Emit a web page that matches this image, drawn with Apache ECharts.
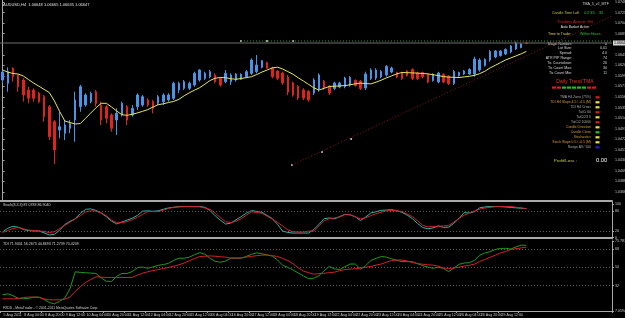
<!DOCTYPE html>
<html lang="en">
<head>
<meta charset="utf-8">
<title>AUDUSD,H4</title>
<script src="https://cdn.jsdelivr.net/npm/echarts@6/dist/echarts.min.js"></script>
<style>
  html, body { margin: 0; padding: 0; background: #000; }
  #chart { width: 625px; height: 318px; }
</style>
</head>
<body>
<div id="chart"></div>
<script>
// ---- data ----
var tradeDays = ['5 Aug', '8 Aug', '9 Aug', '10 Aug', '11 Aug', '12 Aug', '15 Aug', '16 Aug', '17 Aug',
  '18 Aug', '19 Aug', '22 Aug', '23 Aug', '24 Aug', '25 Aug', '26 Aug', '29 Aug', '30 Aug'];
var firstLabel = '5 Aug 2011';

var opens = [1.05907, 1.05841, 1.06141, 1.06007, 1.05907, 1.05707, 1.05707, 1.05641, 1.05573, 1.05373,
  1.05073, 1.04907, 1.04841, 1.04941, 1.05107, 1.05373, 1.05407, 1.05473, 1.05673, 1.05407,
  1.05373, 1.05207, 1.05107, 1.05207, 1.05373, 1.05207, 1.05373, 1.05407, 1.05507, 1.05473,
  1.05441, 1.05473, 1.05507, 1.05541, 1.05707, 1.05741, 1.05741, 1.05807, 1.05907, 1.05941,
  1.05973, 1.06007, 1.05941, 1.05873, 1.05873, 1.05907, 1.05921, 1.05973, 1.06041, 1.06073,
  1.06161, 1.06253, 1.06147, 1.06087, 1.06047, 1.05967, 1.05847, 1.05777, 1.05707, 1.05677,
  1.05647, 1.05727, 1.05887, 1.05787, 1.05737, 1.05767, 1.05777, 1.05807, 1.05897, 1.05887,
  1.05747, 1.05937, 1.05947, 1.05967, 1.06007, 1.06067, 1.06057, 1.06047, 1.06087, 1.06117,
  1.06047, 1.06057, 1.06017, 1.05897, 1.05867, 1.06017, 1.05987, 1.05837, 1.05997, 1.06027,
  1.06027, 1.06027, 1.06107, 1.06197, 1.06307, 1.06367, 1.06397, 1.06427, 1.06467, 1.06527,
  1.06557, 1.06648];
var closes = [1.06067, 1.06073, 1.05973, 1.05773, 1.05607, 1.05541, 1.05541, 1.05473, 1.05173, 1.04773,
  1.04507, 1.04973, 1.05007, 1.05041, 1.05507, 1.05773, 1.05607, 1.05641, 1.05441, 1.05107,
  1.05141, 1.04941, 1.05241, 1.05441, 1.05107, 1.05341, 1.05607, 1.05573, 1.05407, 1.05341,
  1.05573, 1.05607, 1.05607, 1.05841, 1.05841, 1.05873, 1.05841, 1.06041, 1.06107, 1.06041,
  1.06073, 1.05873, 1.05807, 1.06041, 1.06007, 1.06027, 1.06021, 1.06073, 1.06307, 1.06207,
  1.06293, 1.06141, 1.05973, 1.05941, 1.05847, 1.05667, 1.05607, 1.05547, 1.05547, 1.05507,
  1.05907, 1.06007, 1.05747, 1.05647, 1.05847, 1.05847, 1.05947, 1.05957, 1.05797, 1.05737,
  1.06027, 1.06107, 1.06107, 1.06077, 1.06177, 1.06147, 1.05967, 1.05937, 1.05997, 1.05937,
  1.05937, 1.05967, 1.05867, 1.06017, 1.06047, 1.05867, 1.05837, 1.06077, 1.06057, 1.06087,
  1.06117, 1.06327, 1.06307, 1.06317, 1.06477, 1.06487, 1.06487, 1.06517, 1.06587, 1.06647,
  1.06627, 1.06647];
var lows = [1.05841, 1.05673, 1.05873, 1.05673, 1.05473, 1.05441, 1.05473, 1.05441, 1.05073, 1.04707,
  1.04227, 1.04741, 1.04707, 1.04841, 1.04673, 1.05273, 1.05373, 1.05441, 1.05373, 1.05007,
  1.05041, 1.04873, 1.04807, 1.05173, 1.05007, 1.05173, 1.05307, 1.05373, 1.05373, 1.05241,
  1.05407, 1.05407, 1.05473, 1.05507, 1.05641, 1.05707, 1.05707, 1.05773, 1.05873, 1.05907,
  1.05941, 1.05841, 1.05773, 1.05841, 1.05807, 1.05873, 1.05907, 1.05941, 1.06007, 1.06041,
  1.06141, 1.06141, 1.05941, 1.05907, 1.05807, 1.05607, 1.05573, 1.05507, 1.05507, 1.05473,
  1.05607, 1.05673, 1.05707, 1.05607, 1.05707, 1.05741, 1.05741, 1.05773, 1.05773, 1.05707,
  1.05707, 1.05907, 1.05907, 1.05941, 1.05973, 1.06041, 1.05941, 1.05907, 1.05973, 1.05907,
  1.05907, 1.05941, 1.05841, 1.05873, 1.05841, 1.05841, 1.05807, 1.05807, 1.05973, 1.06007,
  1.06007, 1.05973, 1.06073, 1.06173, 1.06273, 1.06341, 1.06373, 1.06407, 1.06441, 1.06507,
  1.06541, 1.06635];
var highs = [1.06107, 1.06161, 1.06161, 1.06007, 1.05941, 1.05773, 1.05741, 1.05673, 1.05607, 1.05407,
  1.05107, 1.05273, 1.05107, 1.05107, 1.05673, 1.05807, 1.05641, 1.05673, 1.05707, 1.05473,
  1.05407, 1.05241, 1.05341, 1.05473, 1.05407, 1.05407, 1.05641, 1.05607, 1.05541, 1.05507,
  1.05607, 1.05641, 1.05641, 1.05873, 1.05873, 1.05907, 1.05873, 1.06073, 1.06121, 1.06073,
  1.06107, 1.06041, 1.05973, 1.06107, 1.06041, 1.06041, 1.06041, 1.06107, 1.06341, 1.06407,
  1.06307, 1.06273, 1.06173, 1.06107, 1.06073, 1.06007, 1.05873, 1.05807, 1.05741, 1.05707,
  1.05941, 1.06041, 1.05907, 1.05807, 1.05873, 1.05873, 1.05973, 1.05987, 1.05921, 1.05907,
  1.06073, 1.06141, 1.06141, 1.06107, 1.06207, 1.06173, 1.06073, 1.06073, 1.06107, 1.06141,
  1.06073, 1.06073, 1.06041, 1.06041, 1.06073, 1.06041, 1.06007, 1.06107, 1.06073, 1.06107,
  1.06141, 1.06373, 1.06341, 1.06341, 1.06507, 1.06507, 1.06507, 1.06541, 1.06607, 1.06673,
  1.06641, 1.06665];

// yellow TMA line
var tmaLine = [1.06107, 1.06065, 1.06037, 1.06027, 1.05987, 1.05915, 1.05845, 1.05783, 1.05719, 1.05657,
  1.05487, 1.05277, 1.05087, 1.05057, 1.05027, 1.05037, 1.05141, 1.05247, 1.05351, 1.05441,
  1.05441, 1.05369, 1.05287, 1.05213, 1.05201, 1.05221, 1.05249, 1.05281, 1.05315, 1.05367,
  1.05413, 1.05431, 1.05457, 1.05479, 1.05521, 1.05591, 1.05651, 1.05703, 1.05753, 1.05823,
  1.05897, 1.05943, 1.05957, 1.05953, 1.05933, 1.05921, 1.05937, 1.05955, 1.05973, 1.06017,
  1.06065, 1.06107, 1.06149, 1.06163, 1.06127, 1.06075, 1.06021, 1.05951, 1.05887, 1.05819,
  1.05751, 1.05705, 1.05741, 1.05777, 1.05783, 1.05789, 1.05795, 1.05811, 1.05831, 1.05845,
  1.05837, 1.05829, 1.05863, 1.05903, 1.05949, 1.05989, 1.06029, 1.06057, 1.06053, 1.06049,
  1.06045, 1.06037, 1.06029, 1.06013, 1.05995, 1.05975, 1.05965, 1.05961, 1.05957, 1.05969,
  1.05981, 1.06001, 1.06035, 1.06083, 1.06149, 1.06201, 1.06255, 1.06309, 1.06349, 1.06389,
  1.06431, 1.06479];

var bidPrice = 1.06647;
var priceTicks = [1.07467, 1.07256, 1.07045, 1.06834, 1.06412, 1.06201, 1.05990, 1.05779, 1.05568,
  1.05357, 1.05146, 1.04935, 1.04724, 1.04513, 1.04302, 1.04091, 1.03880, 1.03669];

// horizontal line object and trend line object (bar position, price)
var hLinePoints = [[45.97, 1.06687], [50.98, 1.06687], [56.0, 1.06687]];
var hLineEnd = 117.5;
var trendPoints = [[55.8, 1.04207], [61.6, 1.04467], [67.2, 1.04727]];
var trendEnd = [117.5, 1.07187];

// Stochastic (8,3,3)
var stochMain = [17.4, 28.1, 33.9, 31.4, 24.4, 21.3, 20, 20, 14.5, 8,
  10.3, 22.2, 39.8, 48.9, 56.6, 72.8, 85, 86.4, 81.8, 73.8,
  63, 49.5, 41.2, 47, 52.8, 58.6, 66.8, 79.5, 80.5, 79,
  80.7, 85.3, 89.3, 91.2, 93.2, 93.2, 93.2, 93.2, 93, 91.3,
  81.2, 65.5, 52.3, 40.8, 43.8, 53.5, 63.1, 73.4, 81.2, 78.6,
  75.9, 66.9, 57.2, 40.1, 19.7, 15.6, 13.9, 13.9, 13.9, 13.9,
  24.6, 39.6, 57.1, 59.2, 56.4, 63.2, 69.9, 68.6, 62.8, 51.2,
  61.8, 74.1, 77.9, 81.8, 82.9, 84.1, 80.9, 75.9, 67.7, 57.3,
  42.8, 30.3, 26.7, 29.3, 35.4, 30.6, 31.8, 43.1, 57.7, 75.1,
  73.9, 78.1, 89.6, 92.2, 93.2, 93.2, 93.1, 92, 90.8, 89.5,
  88.3, 87.1];
var stochSignal = [15.7, 21.5, 27.3, 30.4, 26.6, 22.8, 21.5, 20.4, 18.2, 15.5,
  17.6, 27.3, 36.9, 46.5, 56.1, 66.2, 77.2, 80.4, 79.6, 74.2,
  65.9, 52.7, 44.7, 44.7, 48.4, 54.2, 61.1, 69.9, 78.2, 78.2,
  78.2, 82.4, 87.7, 91.1, 92.3, 93.2, 93.2, 93.2, 92.8, 88.9,
  85, 73.3, 60.3, 47.7, 45.6, 49.1, 56.9, 67.3, 77.8, 75.5,
  73.2, 64.6, 55.3, 46.1, 35, 23.4, 17.8, 17, 16.9, 19.6,
  20, 35.6, 50.6, 56.9, 59.2, 62.1, 68.9, 68.8, 62.6, 56.4,
  59.5, 66.3, 72.1, 76.4, 80.4, 81.7, 80.6, 78.6, 70.8, 63.2,
  50.7, 36.9, 32.2, 33.4, 34.4, 35.2, 36.2, 46.8, 57.7, 67.6,
  73.9, 80.3, 85.6, 89.1, 91, 93, 93.2, 93.2, 93.2, 91.4,
  89.3, 86.9];
var stochLevels = [80, 20];
var stochTicks = [0, 20, 80, 100];

// TDI
var tdiPrice = [22.9, 24, 22.2, 19.4, 19, 19.5, 20.7, 20.7, 18.4, 15.4,
  14, 16.6, 19.8, 29.1, 45.6, 45.1, 44.7, 44.4, 44, 39.7,
  36.3, 36.2, 41.1, 44, 44, 45.9, 49.7, 50.4, 49.1, 50.5,
  52, 52.8, 54, 57, 59, 59, 60.1, 62.5, 64.5, 63,
  58.9, 55.9, 55.1, 56.2, 59, 59, 59, 60.9, 62.9, 64.4,
  63.4, 62.3, 61.1, 57.3, 52.1, 50, 47.4, 44.5, 41.6, 38.8,
  39.3, 41.8, 46.7, 51, 48.5, 47.8, 50.7, 53.3, 53.3, 48.3,
  51.6, 56.8, 58.9, 60.7, 60.1, 58.5, 56.9, 55.7, 55.7, 55.7,
  53.6, 51.8, 50.3, 49.1, 50.2, 48.9, 45.8, 49.2, 53, 54.3,
  54.6, 57, 62, 64.2, 65.5, 67.7, 68.6, 68.8, 68.1, 70.2,
  71.9, 71.7];
var tdiSignal = [19, 19, 19, 19.3, 20.3, 20.7, 20.7, 20.4, 19, 18,
  18, 18, 18.6, 20.9, 26.3, 30.9, 35.2, 38, 40.7, 40.4,
  40.1, 40, 40, 40, 40, 40.2, 42.4, 44.3, 45.7, 46.9,
  47.8, 48.9, 50, 51.1, 52.6, 54.2, 56.6, 58.7, 60.7, 61,
  61.3, 61, 60.5, 60.1, 59.3, 59.2, 59.4, 60.1, 60.9, 61.5,
  62, 62.2, 61.5, 60.8, 58.8, 56.7, 53.6, 49.5, 46.3, 44.8,
  43.4, 43.8, 44.2, 44.8, 45.3, 46.8, 47.9, 48.2, 48.7, 49.4,
  50.1, 50.9, 52.2, 53.3, 55.1, 56.8, 57.3, 57.2, 56.3, 54.8,
  53.8, 53.1, 52.5, 52.2, 51.2, 49.3, 49, 49.3, 50.2, 51.3,
  52.1, 53.3, 55.8, 57.8, 60, 62, 64.2, 65.8, 67.7, 68.4,
  69.2, 70];
var tdiLevels = [68, 50, 32];
var tdiTicks = [7.0594, 32, 50, 68, 75.7876];

// dashboard on the right
var dashInfo = [['Magic Number:', '0'], ['Lot Size:', '0.01'], ['Spread:', '4.0'], ['ATR PIP Range:', '74'],
  ['Tic Countdown:', '26'], ['Tic Count Max:', '30'], ['Tic Count Min:', '11']];
var trendBoxes = ['#d81e1e', '#d81e1e', '#22c01e', '#22c01e', '#22c01e', '#22c01e', '#22c01e', '#d81e1e', '#d81e1e'];
var signalRows = [
  ['TMA H4 Zone (75%)', '#a8a8a8', '#d81e1e'],
  ['TDI H4 Slope 4.5 / -4.5 (M)', '#d89a2a', '#e8e040'],
  ['TDI H4 Cross', '#a8a8a8', '#e8e040'],
  ['TatCi 60', '#a8a8a8', '#d81e1e'],
  ['TatCi2X 6', '#a8a8a8', '#e8e040'],
  ['TatCi2 10000', '#a8a8a8', '#d81e1e'],
  ['Candle Direction', '#d89a2a', '#e8e040'],
  ['Candle Close', '#d89a2a', '#22c01e'],
  ['Stochastics', '#d89a2a', '#e8e040'],
  ['Stoch Slope 0.5 / -0.5 (M)', '#d89a2a', '#e8e040'],
  ['Range All / 100', '#a8a8a8', '#2020d0']
];

// ---- categories ----
function pad(n) { return (n < 10 ? '0' : '') + n; }
var barTimes = [];
tradeDays.forEach(function (d, k) {
  for (var h = (k === 0 ? 12 : 0); h < 24; h += 4) barTimes.push(d + ' ' + pad(h) + ':00');
});
barTimes = barTimes.slice(0, opens.length);
var slots = 118;
var cats = barTimes.slice();
while (cats.length < slots) cats.push('');

var candles = opens.map(function (o, i) { return [o, closes[i], lows[i], highs[i]]; });

// ---- chart ----
var FONT = 'Liberation Sans';
var axisGray = '#a8a8a8';
var labelGray = '#c8c8c8';

function txt(x, y, s, color, size, align) {
  return { type: 'text', silent: true, style: { text: s, x: x, y: y, fill: color, fontSize: size || 4,
    fontFamily: FONT, textAlign: align || 'left', textVerticalAlign: 'middle' } };
}

var graphics = [
  txt(3, 5, 'AUDUSD,H4  1.06648 1.06665 1.06635 1.06647', '#e0e0e0', 4),
  txt(609, 4, 'TMA_5_v2_MTF', '#d0d0d0', 3.6, 'right'),
  txt(552, 13, 'Candle Time Left', '#c8c83a', 3.6),
  txt(584, 13, '02:35 : 35', '#3cae3c', 4.4),
  txt(575, 22, 'Trading Action: Hit', '#d82020', 4.4, 'center'),
  txt(575, 27.5, 'Auto Basket Active', '#e0e0e0', 3.4, 'center'),
  txt(571, 34, 'Time to Trade:', '#e0d040', 3.6, 'right'),
  txt(580, 34, 'Within Hours', '#30c030', 3.6),
  txt(575, 82, 'Daily Trend TMA', '#e03a22', 5, 'center'),
  txt(577, 160.5, 'Profit/Loss :', '#c8d040', 4.4, 'right'),
  txt(607, 160.5, '0.00', '#ffffff', 5.6, 'right'),
  txt(3, 205, 'Stoch(8,3,3) 87.0783 86.9040', '#d8d8d8', 3.6),
  txt(3, 244, 'TDI 71.9401 56.2673 44.8693 71.2739 70.4209', '#d8d8d8', 3.6),
  txt(3, 308.5, 'FXDD - MetaTrader - \u00a9 2001-2011 MetaQuotes Software Corp.', '#d0d0d0', 3.4)
];
dashInfo.forEach(function (r, k) {
  var y = 43.5 + k * 4.9;
  graphics.push(txt(572, y, r[0], '#d8d8d8', 3.6, 'right'));
  graphics.push(txt(607, y, r[1], '#d8d8d8', 3.6, 'right'));
});
trendBoxes.forEach(function (c, k) {
  graphics.push({ type: 'rect', silent: true, shape: { x: 552 + k * 5, y: 86.5, width: 4, height: 2.2 }, style: { fill: c } });
});
signalRows.forEach(function (r, k) {
  var y = 97.3 + k * 5;
  graphics.push(txt(591, y, r[0], r[1], 3.4, 'right'));
  graphics.push({ type: 'rect', silent: true, shape: { x: 595.5, y: y - 1.1, width: 4, height: 2.2 }, style: { fill: r[2] } });
});

var levelLine = function (levels) {
  return { silent: true, symbol: ['none', 'none'], label: { show: false },
    lineStyle: { color: '#5c5c5c', type: [1, 2], width: 1 },
    data: levels.map(function (v) { return { yAxis: v }; }) };
};

var myChart = echarts.init(document.getElementById('chart'));
var option = {
  backgroundColor: '#000',
  animation: false,
  graphic: graphics,
  grid: [
    { left: 0, width: 612, top: 0, height: 201, containLabel: false, outerBoundsMode: 'none' },
    { left: 0, width: 612, top: 202, height: 37, containLabel: false, outerBoundsMode: 'none' },
    { left: 0, width: 612, top: 241, height: 70, containLabel: false, outerBoundsMode: 'none' }
  ],
  xAxis: [
    { type: 'category', gridIndex: 0, data: cats, boundaryGap: true,
      axisLine: { show: true, lineStyle: { color: axisGray, width: 2 } },
      axisTick: { show: false }, axisLabel: { show: false }, splitLine: { show: false } },
    { type: 'value', gridIndex: 0, min: -0.5, max: slots - 0.5, show: false },
    { type: 'category', gridIndex: 1, data: cats, boundaryGap: true,
      axisLine: { show: true, lineStyle: { color: axisGray, width: 2 } },
      axisTick: { show: false }, axisLabel: { show: false }, splitLine: { show: false } },
    { type: 'category', gridIndex: 2, data: cats, boundaryGap: true,
      axisLine: { show: true, lineStyle: { color: axisGray, width: 1 } },
      axisTick: { show: true, length: 2, lineStyle: { color: axisGray },
        interval: function (i, v) { return i % 4 === 0 && v !== ''; } },
      axisLabel: { show: true, color: labelGray, fontSize: 3.6, fontFamily: FONT, margin: 2, align: 'left',
        padding: [0, 0, 0, 1],
        interval: function (i, v) { return i % 4 === 0 && v !== ''; },
        formatter: function (v, i) { return i === 0 ? firstLabel : v; } },
      splitLine: { show: false } }
  ],
  yAxis: [
    { type: 'value', gridIndex: 0, position: 'right', min: 1.03487, max: 1.07507,
      axisLine: { show: true, lineStyle: { color: axisGray } },
      axisTick: { show: true, length: 2, customValues: priceTicks, lineStyle: { color: axisGray } },
      axisLabel: { color: labelGray, fontSize: 3.6, fontFamily: FONT, margin: 3, customValues: priceTicks,
        formatter: function (v) { return v.toFixed(5); } },
      splitLine: { show: false } },
    { type: 'value', gridIndex: 1, position: 'right', min: -4, max: 107,
      axisLine: { show: true, lineStyle: { color: axisGray } },
      axisTick: { show: true, length: 2, customValues: stochTicks, lineStyle: { color: axisGray } },
      axisLabel: { color: labelGray, fontSize: 3.6, fontFamily: FONT, margin: 3, customValues: stochTicks },
      splitLine: { show: false } },
    { type: 'value', gridIndex: 2, position: 'right', min: 7, max: 76,
      axisLine: { show: true, lineStyle: { color: axisGray } },
      axisTick: { show: true, length: 2, customValues: tdiTicks, lineStyle: { color: axisGray } },
      axisLabel: { color: labelGray, fontSize: 3.6, fontFamily: FONT, margin: 3, customValues: tdiTicks,
        formatter: function (v) { return tdiLevels.indexOf(v) >= 0 ? String(v) : v.toFixed(4); } },
      splitLine: { show: false } }
  ],
  series: [
    { name: 'bid', type: 'line', xAxisIndex: 1, yAxisIndex: 0, symbol: 'none', silent: true,
      data: [[-0.5, bidPrice], [slots - 0.5, bidPrice]],
      lineStyle: { color: '#6e6e6e', width: 1 },
      endLabel: { show: true, distance: 1, color: '#000', backgroundColor: '#d4d4d4',
        fontSize: 3.6, fontFamily: FONT, padding: [1, 1, 0, 1],
        formatter: function () { return bidPrice.toFixed(5); } } },
    { name: 'AUDUSD', type: 'candlestick', xAxisIndex: 0, yAxisIndex: 0, data: candles, barWidth: 2,
      itemStyle: { color: '#4a94e6', color0: '#e0231d', borderColor: '#4a94e6', borderColor0: '#e0231d', borderWidth: 1 } },
    { name: 'TMA', type: 'line', xAxisIndex: 0, yAxisIndex: 0, data: tmaLine, symbol: 'none',
      lineStyle: { color: '#e6e65c', width: 1 } },
    { name: 'hline', type: 'line', xAxisIndex: 1, yAxisIndex: 0, symbol: 'none',
      data: [hLinePoints[0], [hLineEnd, hLinePoints[0][1]]],
      lineStyle: { color: '#2e9a2e', type: [1, 2], width: 1 } },
    { name: 'hline dots', type: 'scatter', xAxisIndex: 1, yAxisIndex: 0, data: hLinePoints,
      symbolSize: 2, itemStyle: { color: '#ffffff' } },
    { name: 'trend', type: 'line', xAxisIndex: 1, yAxisIndex: 0, symbol: 'none',
      data: [trendPoints[0], trendEnd],
      lineStyle: { color: '#8a1c1c', type: [1, 2], width: 1 } },
    { name: 'trend dots', type: 'scatter', xAxisIndex: 1, yAxisIndex: 0, data: trendPoints,
      symbolSize: 2, itemStyle: { color: '#ffffff' } },
    { name: 'Stoch main', type: 'line', xAxisIndex: 2, yAxisIndex: 1, data: stochMain, symbol: 'none',
      lineStyle: { color: '#2fb3a3', width: 1 }, markLine: levelLine(stochLevels) },
    { name: 'Stoch signal', type: 'line', xAxisIndex: 2, yAxisIndex: 1, data: stochSignal, symbol: 'none',
      lineStyle: { color: '#d4202a', width: 1 } },
    { name: 'TDI price', type: 'line', xAxisIndex: 3, yAxisIndex: 2, data: tdiPrice, symbol: 'none',
      lineStyle: { color: '#1f9a1f', width: 1 }, markLine: levelLine(tdiLevels) },
    { name: 'TDI signal', type: 'line', xAxisIndex: 3, yAxisIndex: 2, data: tdiSignal, symbol: 'none',
      lineStyle: { color: '#d4202a', width: 1 } }
  ]
};
myChart.setOption(option);
</script>
</body>
</html>
